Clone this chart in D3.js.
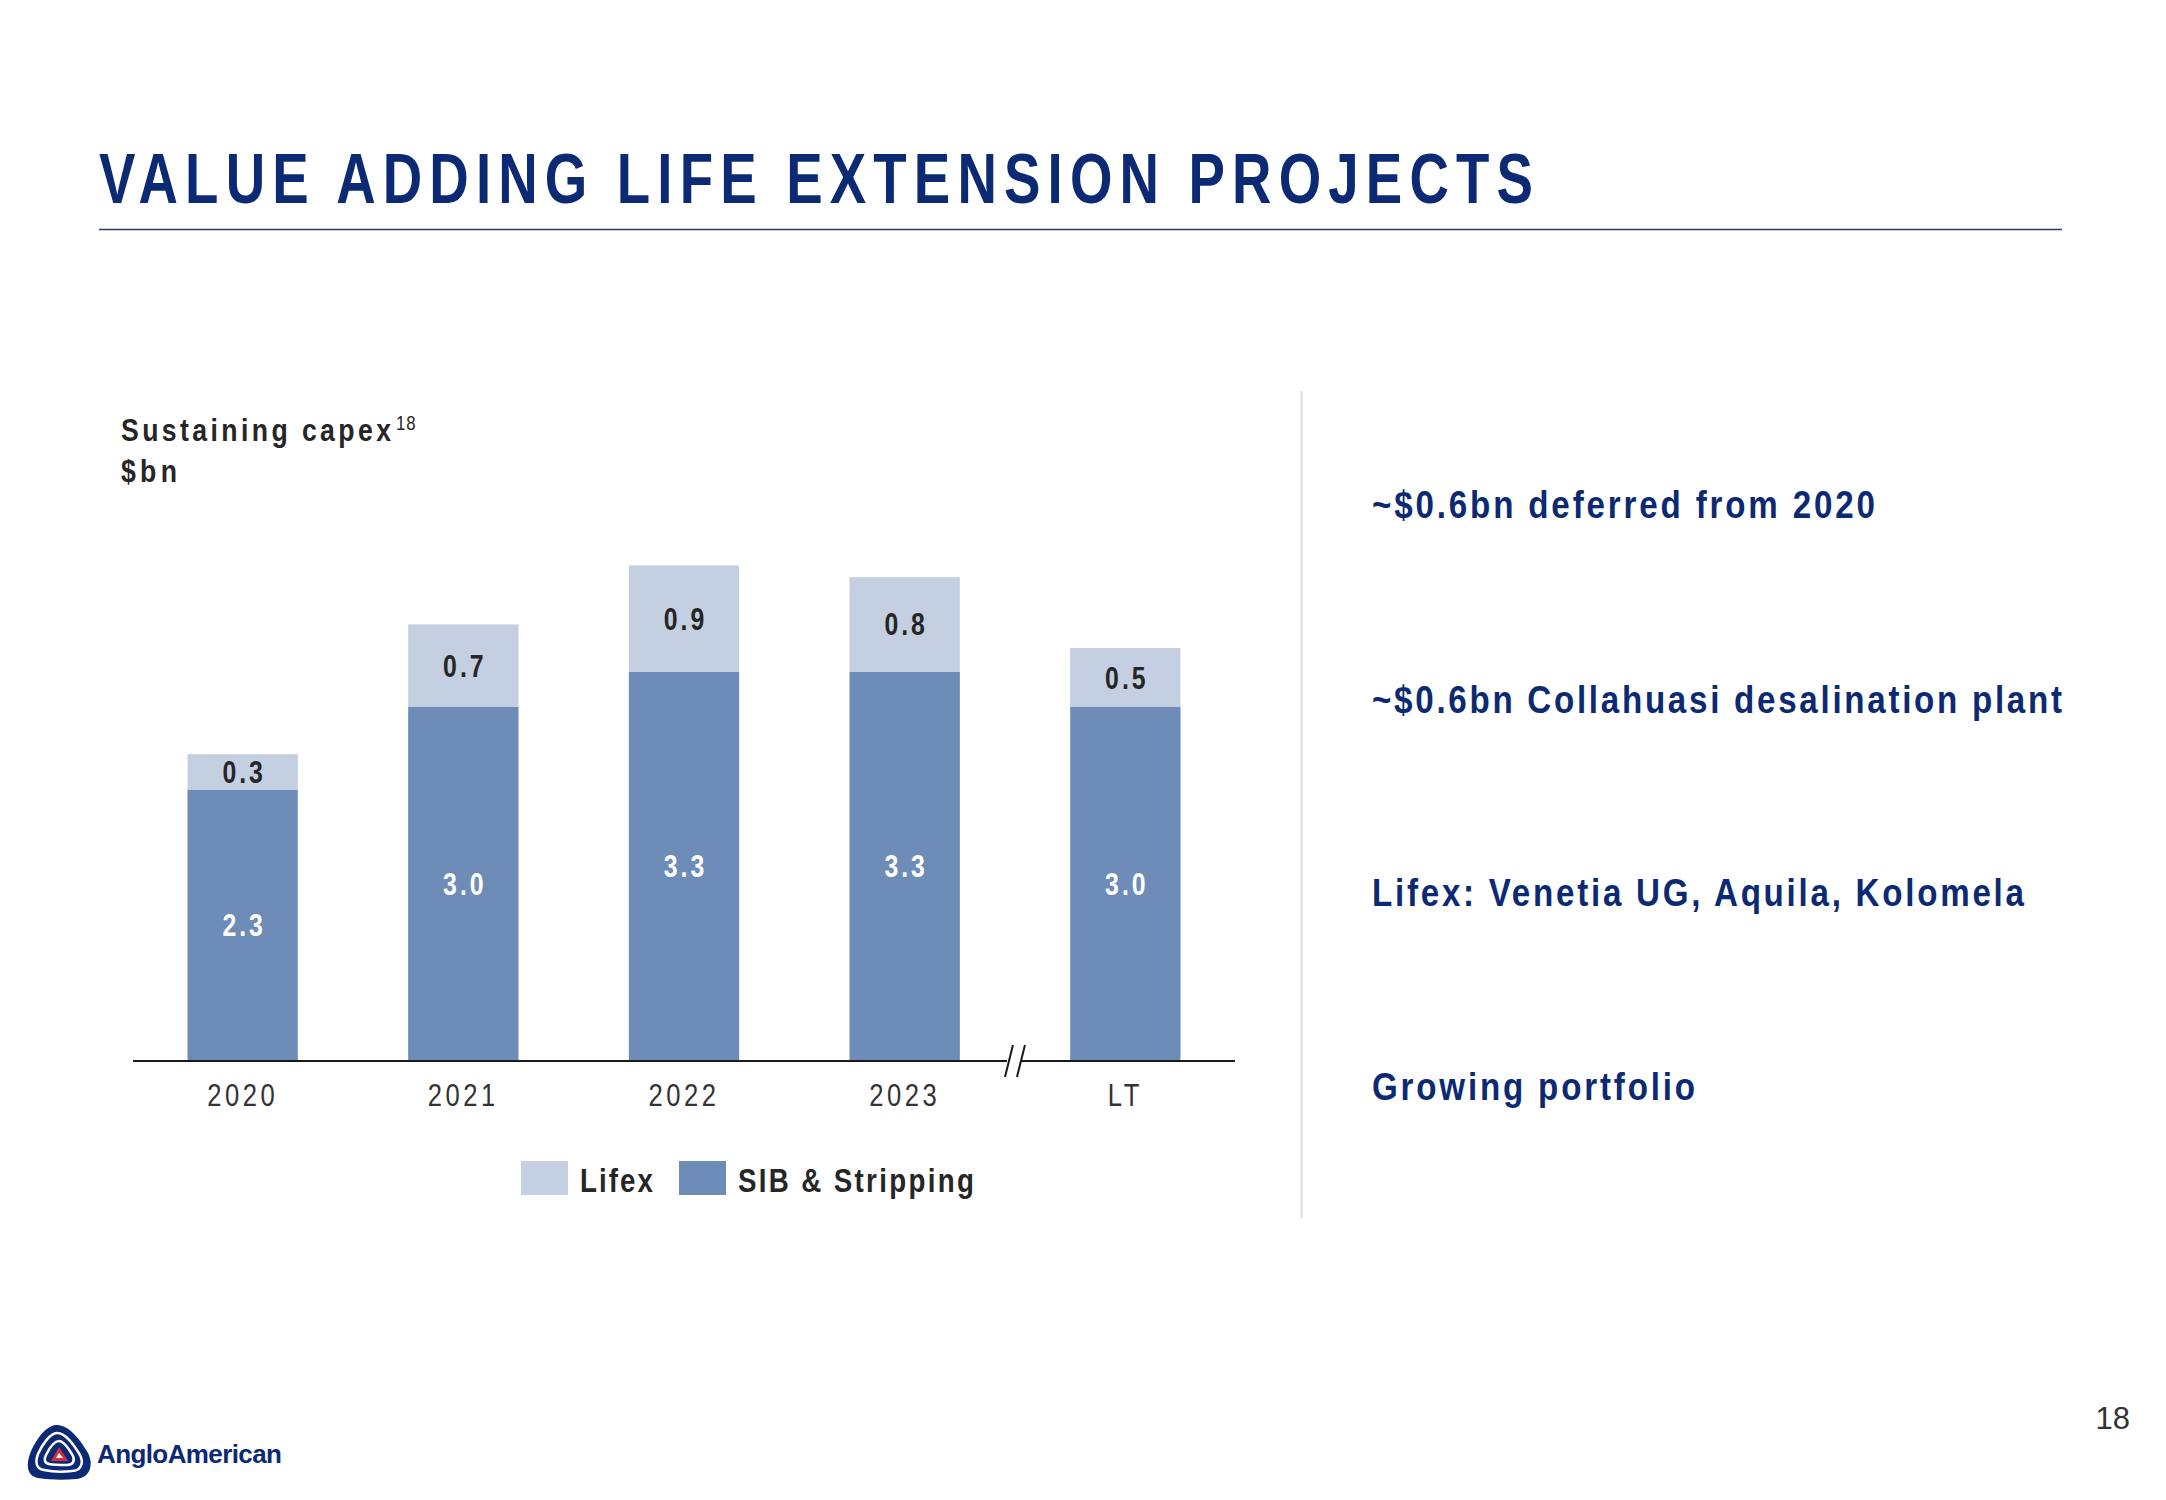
<!DOCTYPE html>
<html><head><meta charset="utf-8">
<script src="https://cdn.jsdelivr.net/npm/d3@7"></script>
<style>
html,body{margin:0;padding:0;background:#fff;}
svg{display:block;}
text{font-family:'Liberation Sans',Arial,sans-serif;}
</style></head>
<body>
<script>
// ---- data ----
const categories = ["2020","2021","2022","2023","LT"];
const sibStripping = [2.3, 3.0, 3.3, 3.3, 3.0];
const lifex = [0.3, 0.7, 0.9, 0.8, 0.5];
const seriesNames = ["Lifex","SIB & Stripping"];
const bullets = ["~$0.6bn deferred from 2020","~$0.6bn Collahuasi desalination plant","Lifex: Venetia UG, Aquila, Kolomela","Growing portfolio"];

const W=2166,H=1500;
const navy="#0c2a74", cLight="#c4cfe2", cDark="#6e8cb8";
const SX=0.8; // condensed look
const svg=d3.select("body").append("svg").attr("width",W).attr("height",H);

// condensed text helper
function ctext(parent,x,y,str,o){
  const sx=o.sx||SX;
  const g=parent.append("g").attr("transform",`translate(${x},${y}) scale(${sx},1)`);
  const t=g.append("text").attr("x",0).attr("y",0).attr("font-size",o.size).attr("fill",o.fill)
    .attr("font-weight",o.bold?"bold":"normal").attr("text-anchor",o.anchor||"start").text(str);
  if(o.len){t.attr("textLength",o.len/sx).attr("lengthAdjust","spacing");}
  if(o.ls!=null){t.attr("letter-spacing",o.ls/sx);}
  return t;
}

// title
ctext(svg,99,203,"VALUE ADDING LIFE EXTENSION PROJECTS",{size:70,bold:true,fill:navy,len:1434,sx:0.78});
svg.append("line").attr("x1",99).attr("x2",2062).attr("y1",229.5).attr("y2",229.5)
  .attr("stroke","#2b3d66").attr("stroke-width",1.5);

// y label
ctext(svg,121,441,"Sustaining capex",{size:31,bold:true,fill:"#262626",len:270,sx:0.86});
ctext(svg,396,430,"18",{size:21,fill:"#262626",ls:1});
ctext(svg,121,482,"$bn",{size:31,bold:true,fill:"#262626",len:56,sx:0.86});

// scales
const x=d3.scaleBand().domain(categories).range([133,1235]).paddingInner(0.5).paddingOuter(0.247);
const y=d3.scaleLinear().domain([0,4.5]).range([1061,1061-118*4.5]);

const rows=categories.map((c,i)=>({cat:c,sib:sibStripping[i],lifex:lifex[i]}));
const stack=d3.stack().keys(["sib","lifex"])(rows);
const colors={sib:cDark,lifex:cLight};

const g=svg.append("g");
stack.forEach(layer=>{
  g.selectAll(null).data(layer).enter().append("rect")
   .attr("x",d=>x(d.data.cat)).attr("width",x.bandwidth())
   .attr("y",d=>y(d[1])).attr("height",d=>y(d[0])-y(d[1]))
   .attr("fill",colors[layer.key]);
  layer.forEach(d=>{
    ctext(g,x(d.data.cat)+x.bandwidth()/2+1.5,(y(d[0])+y(d[1]))/2+11,d3.format(".1f")(d.data[layer.key]),
      {size:31,bold:true,fill:layer.key==="sib"?"#ffffff":"#262626",anchor:"middle",ls:3});
  });
});

// axis
const axis=d3.axisBottom(x).tickSize(0).tickPadding(0);
const ag=svg.append("g").attr("transform","translate(0,1061)").call(axis);
ag.select(".domain").attr("stroke","#1a1a1a").attr("stroke-width",2).attr("d","M133,0H1235");
ag.selectAll(".tick text").attr("font-size",32).attr("fill","#333").attr("letter-spacing",3.5/SX)
  .attr("dy",0).attr("y",45).attr("transform",`scale(${SX},1)`)
  .attr("font-family","'Liberation Sans',Arial,sans-serif");

// break marks
const bx=(x("2023")+x.bandwidth()+x("LT"))/2;
svg.append("rect").attr("x",bx-8).attr("y",1056).attr("width",14).attr("height",10).attr("fill","#fff");
[-6,6].forEach(o=>{
  svg.append("line").attr("x1",bx+o-4).attr("y1",1077).attr("x2",bx+o+4).attr("y2",1045)
   .attr("stroke","#1a1a1a").attr("stroke-width",2);
});

// legend
const leg=[{name:seriesNames[0],color:cLight,x:521,tl:73},{name:seriesNames[1],color:cDark,x:679,tl:236}];
leg.forEach(l=>{
  svg.append("rect").attr("x",l.x).attr("y",1161).attr("width",47).attr("height",34).attr("fill",l.color);
  ctext(svg,l.x+59,1192,l.name,{size:33,bold:true,fill:"#262626",len:l.tl,sx:0.84});
});

// divider
svg.append("line").attr("x1",1301.5).attr("x2",1301.5).attr("y1",391).attr("y2",1218)
  .attr("stroke","#dcdcdc").attr("stroke-width",2);

// bullets
const bY=[518,713,906,1100], bLen=[503,690,652,323];
bullets.forEach((t,i)=>{
  ctext(svg,1372,bY[i],t,{size:39,bold:true,fill:navy,len:bLen[i],sx:0.85});
});

// page number
svg.append("text").attr("x",2130).attr("y",1429).attr("text-anchor","end").attr("font-size",31)
  .attr("fill","#333").text("18");

// logo
const lg=svg.append("g").attr("transform","translate(60,1453)");
lg.append("path").attr("d","M-4,-28 C8,-29 20,-14 28,0 C34,12 30,25 16,26 C4,27 -10,27 -22,25 C-33,23 -34,12 -30,1 C-25,-12 -15,-27 -4,-28Z").attr("fill",navy);
lg.append("path").attr("d","M-3,-20 C6,-20 14,-8 20,2 C24,10 21,18 12,18 C3,19 -7,19 -16,17 C-24,16 -25,9 -22,1 C-18,-8 -10,-20 -3,-20Z").attr("fill","none").attr("stroke","#fff").attr("stroke-width",2.5);
lg.append("path").attr("d","M-1,-12 C4,-12 9,-4 13,3 C15,8 13,12 7,12 C1,12 -6,12 -11,11 C-16,10 -16,6 -14,2 C-11,-4 -6,-12 -1,-12Z").attr("fill","none").attr("stroke","#fff").attr("stroke-width",2.5);
lg.append("path").attr("d","M-1,-6 L8,8 L-9,8Z").attr("fill","#d42f3a");
lg.append("path").attr("d","M-1,0 L3,5 L-4,5Z").attr("fill","#fff");
svg.append("text").attr("x",97).attr("y",1463).attr("font-size",26).attr("font-weight","bold")
  .attr("fill",navy).attr("letter-spacing",-0.6).text("AngloAmerican");
</script>
</body></html>
